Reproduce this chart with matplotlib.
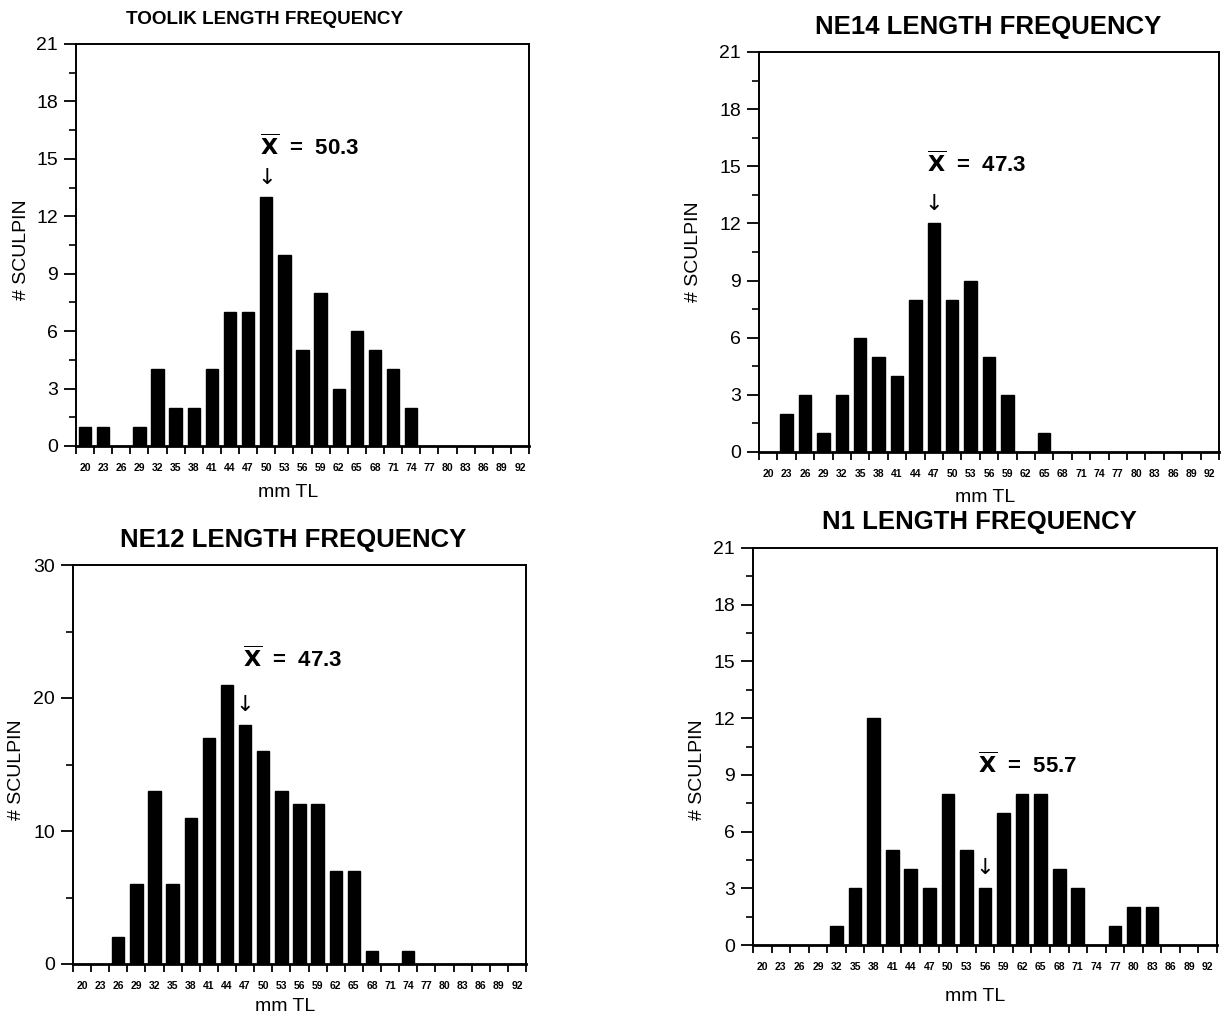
import numpy as np
import matplotlib
matplotlib.use("Agg")
import matplotlib.pyplot as plt
from matplotlib.ticker import MultipleLocator, FixedLocator

plt.rcParams["font.family"] = ["Liberation Sans", "DejaVu Sans"]

W, H = 1228, 1021

# length classes (mm TL)
lengths = [20, 23, 26, 29, 32, 35, 38, 41, 44, 47, 50, 53, 56, 59, 62,
           65, 68, 71, 74, 77, 80, 83, 86, 89, 92]

toolik = [1, 1, 0, 1, 4, 2, 2, 4, 7, 7, 13, 10, 5, 8, 3, 6, 5, 4, 2,
          0, 0, 0, 0, 0, 0]
ne14 = [0, 2, 3, 1, 3, 6, 5, 4, 8, 12, 8, 9, 5, 3, 0, 1, 0, 0, 0,
        0, 0, 0, 0, 0, 0]
ne12 = [0, 0, 2, 6, 13, 6, 11, 17, 21, 18, 16, 13, 12, 12, 7, 7, 1, 0, 1,
        0, 0, 0, 0, 0, 0]
n1 = [0, 0, 0, 0, 1, 3, 12, 5, 4, 3, 8, 5, 3, 7, 8, 8, 4, 3, 0,
      1, 2, 2, 0, 0, 0]

titles = ["TOOLIK LENGTH FREQUENCY", "NE14 LENGTH FREQUENCY",
          "NE12 LENGTH FREQUENCY", "N1 LENGTH FREQUENCY"]
means = [50.3, 47.3, 47.3, 55.7]
mean_bins = [50, 47, 47, 56]   # bar the arrow points at


def px(x, y):
    return x / W, 1 - y / H


fig = plt.figure(figsize=(W / 100, H / 100), dpi=100, facecolor="white")

# panel geometry in pixels: left, top, right, bottom
boxes = [(76, 44, 529, 446), (759, 52, 1219, 452),
         (73, 565, 526, 964), (753, 548, 1217, 945)]
ymax = [21, 21, 30, 21]
ystep = [3, 3, 10, 3]
title_pos = [(265, 20, 13.6), (988, 27, 18.5), (293, 540, 18.5), (979, 522, 18.5)]
xlab_pos = [(288, 492), (985, 497), (285, 1006), (975, 996)]
ylab_pos = [(22, 250), (693, 252), (17, 770), (698, 770)]
# mean label: (data x of left edge, data y of text, data y of arrow)
mean_pos = [(9.65, 15.6, 14.0), (8.63, 15.1, 13.0),
            (8.88, 22.9, 19.5), (11.62, 9.5, 4.1)]

series = [toolik, ne14, ne12, n1]
idx = np.arange(len(lengths))

for k in range(4):
    l, t, r, b = boxes[k]
    ax = fig.add_axes([l / W, 1 - b / H, (r - l) / W, (b - t) / H])
    ax.bar(idx, series[k], width=0.68, color="black", edgecolor="black")
    ax.set_xlim(-0.5, len(lengths) - 0.5)
    ax.set_ylim(0, ymax[k])

    # y ticks: labelled majors, unlabelled minors halfway
    ax.yaxis.set_major_locator(MultipleLocator(ystep[k]))
    ax.yaxis.set_minor_locator(MultipleLocator(ystep[k] / 2))
    ax.tick_params(axis="y", which="major", direction="out", length=9,
                   width=1.3, labelsize=14, pad=4)
    ax.tick_params(axis="y", which="minor", direction="out", length=5,
                   width=1.2)

    # x: labels under bars, ticks at class boundaries
    ax.set_xticks(idx)
    ax.set_xticklabels([str(v) for v in lengths], fontsize=7.5,
                       fontweight="bold")
    ax.xaxis.set_minor_locator(FixedLocator(np.arange(-0.5, len(lengths), 1)))
    ax.tick_params(axis="x", which="major", length=0, pad=12)
    ax.tick_params(axis="x", which="minor", direction="out", length=6,
                   width=1.3)

    for s in ax.spines.values():
        s.set_linewidth(1.4)
    ax.spines["bottom"].set_linewidth(2.0)

    mx, my, ay = mean_pos[k]
    ax.text(mx, my, r"$\overline{\mathbf{X}}$  =  " + f"{means[k]}",
            fontsize=16, fontweight="bold", ha="left", va="center")
    ax.text(lengths.index(mean_bins[k]), ay, "↓", fontsize=16,
            ha="center", va="center", family="DejaVu Sans")

    tx, ty, tfs = title_pos[k]
    fig.text(*px(tx, ty), titles[k], fontsize=tfs, fontweight="bold",
             ha="center", va="center")
    fig.text(*px(*xlab_pos[k]), "mm TL", fontsize=14, ha="center",
             va="center")
    fig.text(*px(*ylab_pos[k]), "# SCULPIN", fontsize=14, rotation=90,
             ha="center", va="center")

fig.savefig("out.png", dpi=100, facecolor="white")
